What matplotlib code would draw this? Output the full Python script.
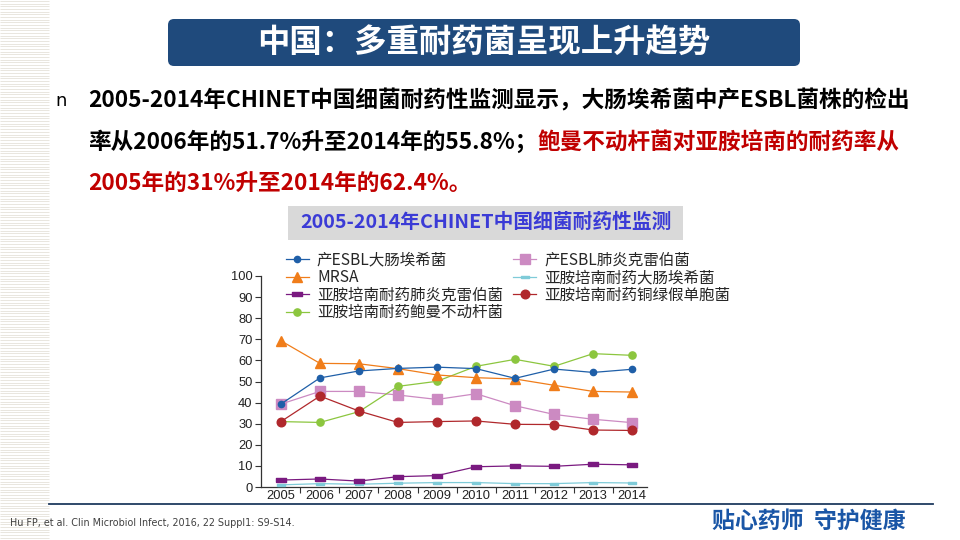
import numpy as np
import matplotlib
matplotlib.use('Agg')
import matplotlib.pyplot as plt
from matplotlib.patches import FancyBboxPatch, Rectangle

plt.rcParams['font.family'] = ['Noto Sans CJK SC', 'DejaVu Sans']

# data (resistance rate, %)
years = [2005, 2006, 2007, 2008, 2009, 2010, 2011, 2012, 2013, 2014]
esbl_ecoli = [39.3, 51.7, 55.0, 56.2, 56.8, 56.1, 51.5, 55.9, 54.3, 55.8]
mrsa = [69.3, 58.6, 58.4, 56.1, 53.1, 51.8, 51.2, 48.2, 45.3, 45.0]
esbl_kpn = [39.3, 45.3, 45.3, 43.6, 41.5, 44.2, 38.5, 34.4, 32.1, 30.5]
ipm_ecoli = [1.0, 1.6, 1.3, 1.8, 2.1, 2.1, 1.6, 1.6, 2.1, 1.9]
ipm_kpn = [3.3, 3.8, 2.8, 4.9, 5.4, 9.6, 10.0, 9.8, 10.8, 10.5]
ipm_pae = [31.0, 43.1, 36.0, 30.6, 31.0, 31.3, 29.7, 29.6, 27.0, 26.8]
ipm_aba = [31.0, 30.6, 35.7, 47.7, 50.1, 57.2, 60.5, 57.2, 63.2, 62.4]
y_ticks = [0, 10, 20, 30, 40, 50, 60, 70, 80, 90, 100]

fig = plt.figure(figsize=(9.6, 5.4), dpi=100)

# background layer in pixel coordinates
bg = fig.add_axes([0, 0, 1, 1])
bg.set_xlim(0, 960)
bg.set_ylim(540, 0)
bg.axis('off')

# striped strip on the left edge
bg.hlines(np.arange(1, 540, 2.67), 0, 49, color='#e9e6de', lw=0.7)

# title box
bg.add_patch(FancyBboxPatch((168, 19), 632, 47, boxstyle='round,pad=0,rounding_size=6',
                            fc='#1f4a7c', ec='none'))
bg.text(484, 42, '中国：多重耐药菌呈现上升趋势', color='white', fontsize=23.3,
        fontweight='bold', ha='center', va='center')

# bullet text
fs = 16.3
bg.text(55, 101, 'n', fontsize=13, ha='left', va='center', family='DejaVu Sans')
bg.text(88, 101, '2005-2014年CHINET中国细菌耐药性监测显示，大肠埃希菌中产ESBL菌株的检出',
        fontsize=fs, fontweight='bold', ha='left', va='center')
t1 = bg.text(88, 142, '率从2006年的51.7%升至2014年的55.8%；', fontsize=fs,
             fontweight='bold', ha='left', va='center')
bg.annotate('鲍曼不动杆菌对亚胺培南的耐药率从', xy=(1, 0.5), xycoords=t1,
            fontsize=fs, fontweight='bold', color='#c00000', ha='left', va='center')
bg.text(88, 183, '2005年的31%升至2014年的62.4%。', fontsize=fs,
        fontweight='bold', color='#c00000', ha='left', va='center')

# chart caption box
bg.add_patch(Rectangle((288, 206), 395, 34, fc='#d9d9d9', ec='none'))
bg.text(486, 222, '2005-2014年CHINET中国细菌耐药性监测', fontsize=14.2,
        fontweight='bold', color='#3b3bd6', ha='center', va='center')

# footer
bg.plot([49, 933], [504, 504], color='#1f3a5f', lw=1.3)
bg.text(10, 523, 'Hu FP, et al. Clin Microbiol Infect, 2016, 22 Suppl1: S9-S14.',
        fontsize=6.9, color='#404040', ha='left', va='center',
        family=['Liberation Sans Narrow', 'DejaVu Sans'])
bg.text(809, 522, '贴心药师  守护健康', fontsize=16.5, fontweight='bold',
        color='#1a56a6', ha='center', va='center')

# the chart
ax = fig.add_axes([261 / 960, 1 - 487 / 540, (647 - 261) / 960, (487 - 276) / 540])
ax.set_facecolor('none')

rect = [(-1, -0.5), (1, -0.5), (1, 0.5), (-1, 0.5), (-1, -0.5)]
flat = [(-1, -0.35), (1, -0.35), (1, 0.35), (-1, 0.35), (-1, -0.35)]

h_blue, = ax.plot(years, esbl_ecoli, color='#1f5fa8', marker='o', ms=4.5, lw=0.9, zorder=7,
                  label='产ESBL大肠埃希菌')
h_orange, = ax.plot(years, mrsa, color='#f07d1a', marker='^', ms=7.5, lw=0.9, zorder=6,
                    label='MRSA')
h_purple, = ax.plot(years, ipm_kpn, color='#7a1a80', marker=rect, ms=7, lw=0.9, zorder=5,
                    label='亚胺培南耐药肺炎克雷伯菌')
h_green, = ax.plot(years, ipm_aba, color='#8cc63f', marker='o', ms=5.2, lw=0.9, zorder=3,
                   label='亚胺培南耐药鲍曼不动杆菌')
h_pink, = ax.plot(years, esbl_kpn, color='#cc8ac2', marker='s', ms=6.8, lw=0.9, zorder=2,
                  label='产ESBL肺炎克雷伯菌')
h_cyan, = ax.plot(years, ipm_ecoli, color='#7fcbd8', marker=flat, ms=6, lw=0.9, zorder=4,
                  label='亚胺培南耐药大肠埃希菌')
h_red, = ax.plot(years, ipm_pae, color='#b0282c', marker='o', ms=6.2, lw=0.9, zorder=4,
                 label='亚胺培南耐药铜绿假单胞菌')

ax.set_xlim(2004.49, 2014.38)
ax.set_ylim(0, 100)
ax.set_yticks(y_ticks)
ax.set_xticks(years)
ax.set_xticks([y + 0.5 for y in years[:-1]], minor=True)
for s in ['top', 'right']:
    ax.spines[s].set_visible(False)
for s in ['left', 'bottom']:
    ax.spines[s].set_color('#333333')
    ax.spines[s].set_linewidth(0.9)
ax.tick_params(axis='y', direction='out', length=4, width=0.8, color='#333333', pad=2,
               labelsize=9.3, labelcolor='#222222')
ax.tick_params(axis='x', which='major', length=0, pad=2, labelsize=9.3, labelcolor='#222222')
ax.tick_params(axis='x', which='minor', direction='out', length=4, width=0.8, color='#333333')
for lab in ax.get_xticklabels() + ax.get_yticklabels():
    lab.set_family(['Liberation Sans', 'DejaVu Sans'])

handles = [h_blue, h_orange, h_purple, h_green, h_pink, h_cyan, h_red]
leg = fig.legend(handles=handles, ncol=2, frameon=False, loc='upper left',
                 bbox_to_anchor=(278 / 960, 1 - 244 / 540), fontsize=11.2,
                 handlelength=1.5, handletextpad=0.5, labelspacing=0.03,
                 columnspacing=0.65, borderpad=0)
for txt in leg.get_texts():
    txt.set_color('#262626')

fig.savefig('out.png', dpi=100)
